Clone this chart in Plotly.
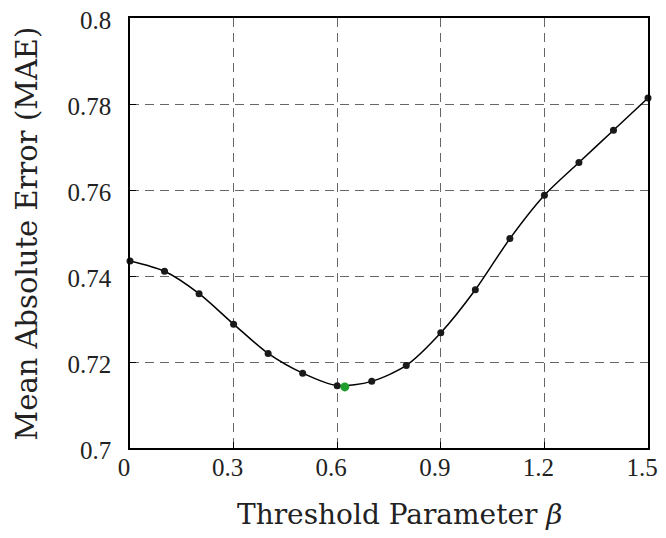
import plotly.graph_objects as go

beta = [0.0, 0.1, 0.2, 0.3, 0.4, 0.5, 0.6, 0.7, 0.8, 0.9, 1.0, 1.1, 1.2, 1.3, 1.4, 1.5]
mae = [0.7435, 0.7411, 0.7359, 0.7288, 0.7220, 0.7174, 0.7145, 0.7155, 0.7192,
       0.7268, 0.7368, 0.7487, 0.7588, 0.7664, 0.7739, 0.7814]
best_beta = [0.622]
best_mae = [0.7142]

xticks = [0, 0.3, 0.6, 0.9, 1.2, 1.5]
xticktext = ["0", "0.3", "0.6", "0.9", "1.2", "1.5"]
yticks = [0.70, 0.72, 0.74, 0.76, 0.78, 0.80]
yticktext = ["0.7", "0.72", "0.74", "0.76", "0.78", "0.8"]

fig = go.Figure()
fig.add_trace(go.Scatter(x=beta, y=mae, mode="lines+markers",
                         line=dict(color="black", width=1.5, shape="spline", smoothing=0.8),
                         marker=dict(color="#1a1a1a", size=7),
                         showlegend=False, cliponaxis=False))
fig.add_trace(go.Scatter(x=best_beta, y=best_mae, mode="markers",
                         marker=dict(color="#1f9e2e", size=9),
                         showlegend=False))

tickfont = "Liberation Serif, Times New Roman, serif"
titlefont = "DejaVu Serif, serif"
axis_common = dict(showgrid=True, gridcolor="#666", griddash="9px,6px", gridwidth=1,
                   showline=True, linecolor="black", linewidth=1.5, mirror=True,
                   ticks="inside", ticklen=6, tickcolor="black",
                   tickfont=dict(size=25, family=tickfont, color="#222"),
                   ticklabeloverflow="allow",
                   automargin=False, zeroline=False)

fig.update_layout(
    width=650, height=522,
    margin=dict(l=122, r=10, t=10, b=82),
    paper_bgcolor="white", plot_bgcolor="white",
    font=dict(family=tickfont, color="#222", size=25),
    xaxis=dict(range=[0, 1.5], tickvals=xticks, ticktext=xticktext,
               ticklabelstandoff=-4, ticklabelshift=-6, **axis_common),
    yaxis=dict(range=[0.70, 0.80], tickvals=yticks, ticktext=yticktext,
               ticklabelstandoff=12, ticklabelshift=2, **axis_common),
    annotations=[
        dict(text="Threshold Parameter <i>β</i>", xref="paper", yref="paper",
             x=0.52, y=-0.155, xanchor="center", yanchor="middle", showarrow=False,
             font=dict(size=28, family=titlefont, color="#222")),
        dict(text="Mean Absolute Error (MAE)", xref="paper", yref="paper",
             x=-0.198, y=0.5, xanchor="center", yanchor="middle", showarrow=False,
             textangle=-90, font=dict(size=29, family=titlefont, color="#222")),
    ],
)

fig.write_html("out.html")
